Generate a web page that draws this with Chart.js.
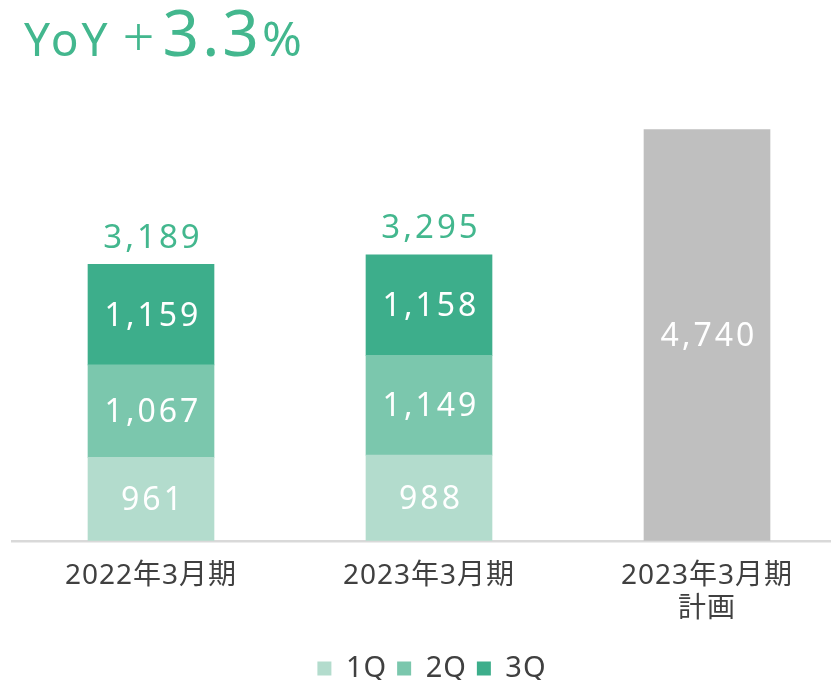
<!DOCTYPE html>
<html><head><meta charset="utf-8">
<script src="https://cdn.jsdelivr.net/npm/chart.js@4"></script>
<style>
html,body{margin:0;padding:0;background:#fff;overflow:hidden;width:831px;height:680px;}
#title{position:absolute;left:24px;top:-12px;color:#43b78e;font-family:"Noto Sans","Noto Sans CJK JP",sans-serif;white-space:nowrap;}
#title span{display:inline-block;vertical-align:baseline;}
#title .a{font-size:46px;letter-spacing:3px;}
#title .p{font-size:56px;font-weight:300;margin-left:12px;}
#title .b{font-size:64px;letter-spacing:3px;margin-left:8px;}
#title .c{font-size:48px;}
#wrap{position:absolute;left:0;top:0;width:850px;height:697px;}
</style></head><body>
<div id="wrap"><canvas id="c" width="850" height="697"></canvas></div>
<div id="title"><span class="a">YoY</span><span class="p">+</span><span class="b">3.3</span><span class="c">%</span></div>
<script>
const categories = [["2022年3月期"], ["2023年3月期"], ["2023年3月期", "計画"]];
const q1 = [961, 988, null];
const q2 = [1067, 1149, null];
const q3 = [1159, 1158, null];
const plan = [null, null, 4740];
const totals = [3189, 3295, null];
const seriesNames = ["1Q", "2Q", "3Q", "計画"];
const colors = ["#b3dccd", "#7bc7ad", "#3dae8b", "#bfbfbf"];

const FONT = '"Noto Sans","Noto Sans CJK JP",sans-serif';
const fmt = v => v.toLocaleString('en-US');

const spacingPlugin = {
  id: 'spacing',
  beforeDraw(chart) { chart.ctx.letterSpacing = '1px'; }
};

const labelPlugin = {
  id: 'labels',
  afterDatasetsDraw(chart) {
    const ctx = chart.ctx;
    ctx.save();
    ctx.textAlign = 'center';
    ctx.textBaseline = 'middle';
    ctx.letterSpacing = '3px';
    chart.data.datasets.forEach((ds, i) => {
      const meta = chart.getDatasetMeta(i);
      meta.data.forEach((bar, j) => {
        const v = ds.data[j];
        if (v == null) return;
        const y = (bar.y + bar.base) / 2 + 2;
        ctx.fillStyle = '#ffffff';
        ctx.font = '32px ' + FONT;
        ctx.fillText(fmt(v), bar.x + 2, y);
      });
    });
    const topMeta = chart.getDatasetMeta(2);
    topMeta.data.forEach((bar, j) => {
      if (totals[j] == null) return;
      ctx.fillStyle = '#43b78e';
      ctx.font = '33px ' + FONT;
      ctx.fillText(fmt(totals[j]), bar.x + 2, bar.y - 26);
    });
    ctx.restore();
  }
};

new Chart(document.getElementById('c'), {
  type: 'bar',
  data: {
    labels: categories,
    datasets: [
      { label: seriesNames[0], data: q1, backgroundColor: colors[0] },
      { label: seriesNames[1], data: q2, backgroundColor: colors[1] },
      { label: seriesNames[2], data: q3, backgroundColor: colors[2] },
      { label: seriesNames[3], data: plan, backgroundColor: colors[3] }
    ]
  },
  options: {
    responsive: false,
    animation: false,
    devicePixelRatio: 1,
    layout: { padding: { left: 12, right: 4, top: 107, bottom: 4 } },
    datasets: { bar: { barThickness: 126, borderWidth: 0 } },
    scales: {
      x: {
        stacked: true,
        grid: { display: false, drawTicks: false },
        border: { display: true, color: '#d9d9d9', width: 2.5 },
        ticks: { color: '#404040', font: { family: FONT, size: 28 }, padding: 18 }
      },
      y: { stacked: true, display: false, min: 0, max: 5000 }
    },
    plugins: {
      legend: {
        position: 'bottom',
        labels: {
          filter: item => item.datasetIndex < 3,
          color: '#404040',
          font: { family: FONT, size: 29 },
          boxWidth: 14, boxHeight: 14, padding: 10
        }
      },
      tooltip: { enabled: false }
    }
  },
  plugins: [spacingPlugin, labelPlugin]
});
</script>
</body></html>
